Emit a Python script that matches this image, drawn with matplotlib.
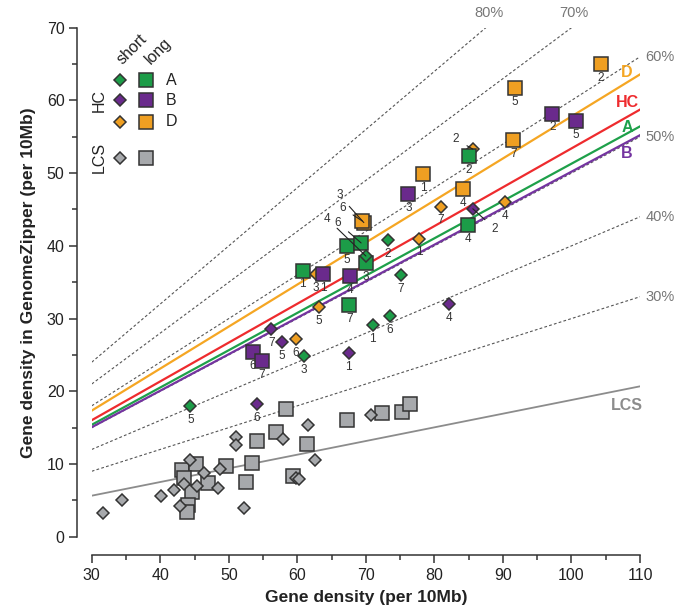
import numpy as np
import matplotlib
matplotlib.use("Agg")
import matplotlib.pyplot as plt
from matplotlib.ticker import MultipleLocator

plt.rcParams['font.family'] = ['Liberation Sans', 'DejaVu Sans']

# chromosome numbers 1..7 label each HC point
chrom = [1, 2, 3, 4, 5, 6, 7]

# HC, short / long, for the three variants A, B, D
a_short_x = [71.0, 73.2, 61.0, 70.0, 44.4, 73.5, 75.1]
a_short_y = [29.1, 40.8, 24.9, 38.6, 18.0, 30.3, 36.0]
a_long_x = [60.8, 85.0, 70.0, 84.9, 67.2, 69.3, 67.6]
a_long_y = [36.6, 52.4, 37.6, 42.9, 40.0, 40.4, 31.8]

b_short_x = [67.5, 85.6, 63.8, 82.2, 57.7, 54.1, 56.2]
b_short_y = [25.2, 45.1, 36.1, 32.0, 26.8, 18.2, 28.5]
b_long_x = [63.8, 97.2, 76.2, 67.7, 100.6, 53.5, 54.8]
b_long_y = [36.1, 58.2, 47.1, 35.8, 57.2, 25.4, 24.1]

d_short_x = [77.8, 85.6, 62.7, 90.3, 63.1, 59.8, 80.9]
d_short_y = [41.0, 53.3, 36.1, 46.0, 31.6, 27.2, 45.4]
d_long_x = [78.4, 104.3, 69.7, 84.2, 91.8, 69.5, 91.5]
d_long_y = [49.9, 65.0, 43.2, 47.8, 61.7, 43.4, 54.5]

# LCS points (no chromosome labels)
lcs_short_x = [31.7, 34.4, 40.1, 42.0, 42.9, 43.5, 44.3, 45.3, 46.4, 48.4,
               48.7, 51.1, 51.1, 52.2, 57.9, 59.8, 60.2, 61.6, 62.6, 70.7]
lcs_short_y = [3.2, 5.1, 5.6, 6.4, 4.2, 7.2, 10.5, 7.0, 8.7, 6.7,
               9.3, 13.7, 12.6, 3.9, 13.5, 8.1, 7.9, 15.4, 10.6, 16.8]
lcs_long_x = [43.2, 45.2, 43.5, 46.9, 49.6, 44.6, 44.0, 43.9, 52.5, 53.4,
              54.1, 56.9, 58.4, 59.4, 61.4, 67.2, 72.4, 75.3, 76.5]
lcs_long_y = [9.2, 10.0, 8.1, 7.4, 9.7, 6.2, 4.4, 3.4, 7.5, 10.2,
              13.1, 14.4, 17.5, 8.3, 12.8, 16.1, 17.0, 17.1, 18.2]

# slopes of the fitted lines through the origin
fit_names = ['D', 'HC', 'A', 'B', 'LCS']
fit_slopes = [0.578, 0.534, 0.513, 0.502, 0.188]

# reference lines y = p * x
pct_lines = [0.3, 0.4, 0.5, 0.6, 0.7, 0.8]

GREEN = '#1c9c48'
PURPLE = '#6a2a8c'
ORANGE = '#ef9f22'
GRAY = '#a7a9ac'
EDGE = '#333333'
line_colors = {'D': '#f5a623', 'HC': '#ee2b2e', 'A': '#1ea04a', 'B': '#7434a0', 'LCS': '#8c8c8c'}

fig = plt.figure(figsize=(6.78, 6.05), dpi=100)
ax = fig.add_axes([0.1353, 0.1129, 0.8087, 0.8413])
ax.set_xlim(30, 110)
ax.set_ylim(0, 70)

x0, x1 = 30, 110
for p in pct_lines:
    xe = min(x1, 70 / p)
    ax.plot([x0, xe], [p * x0, p * xe], color='#555555', lw=0.8,
            dashes=(2.5, 2), zorder=1)
    lab = '%d%%' % round(p * 100)
    if xe < x1:
        ax.text(xe + 0.4, 71.0, lab, ha='center', va='bottom', fontsize=10.5,
                color='#777777', clip_on=False)
    else:
        ax.text(x1 + 0.8, p * x1, lab, ha='left', va='center', fontsize=10.5,
                color='#777777', clip_on=False)

for name, s in zip(fit_names, fit_slopes):
    ax.plot([x0, x1], [s * x0, s * x1], color=line_colors[name],
            lw=1.6 if name != 'LCS' else 1.3, zorder=2)

line_text_y = {'D': 63.8, 'HC': 59.7, 'A': 56.3, 'B': 52.7, 'LCS': 18.1}
for name in fit_names:
    ax.text(108.1, line_text_y[name], name, ha='center', va='center',
            fontsize=11.5, fontweight='bold', color=line_colors[name])

# LCS: squares below diamonds
ax.plot(lcs_long_x, lcs_long_y, 's', ms=9.5, mfc=GRAY, mec=EDGE, mew=1.1, ls='none', zorder=3)
ax.plot(lcs_short_x, lcs_short_y, 'D', ms=6.6, mfc=GRAY, mec=EDGE, mew=1.1, ls='none', zorder=3)

groups = [
    ('Ds', d_short_x, d_short_y, 'D', ORANGE),
    ('Bs', b_short_x, b_short_y, 'D', PURPLE),
    ('Bl', b_long_x, b_long_y, 's', PURPLE),
    ('Al', a_long_x, a_long_y, 's', GREEN),
    ('As', a_short_x, a_short_y, 'D', GREEN),
    ('Dl', d_long_x, d_long_y, 's', ORANGE),
]

# chromosome labels that sit off the default spot (offsets in points);
# None = no label (marker hidden under another one)
label_offsets = {
    ('Ds', 2): (-12, 7),
    ('Bs', 2): (16, -14.5),
    ('Dl', 3): (-17.5, 19.5),
    ('Dl', 6): (-14.5, 9.5),
    ('As', 4): (-28, 27),
    ('Al', 6): (-16.5, 14.5),
    ('Bs', 3): None,
}
leader = {('Ds', 2), ('Bs', 2), ('Dl', 3), ('Dl', 6), ('As', 4), ('Al', 6)}

z = 4
for key, xs, ys, mk, col in groups:
    ms = 9.5 if mk == 's' else 6.6
    ax.plot(xs, ys, mk, ms=ms, mfc=col, mec=EDGE, mew=1.1, ls='none', zorder=z)
    for c, x, y in zip(chrom, xs, ys):
        off = label_offsets.get((key, c), (0, -10))
        if off is None:
            continue
        if (key, c) in leader:
            ax.annotate(str(c), (x, y), xytext=off, textcoords='offset points',
                        ha='center', va='center', fontsize=8.5, color='#333333',
                        arrowprops=dict(arrowstyle='-', color='#222222', lw=0.8,
                                        shrinkA=4, shrinkB=0), zorder=8)
        else:
            ax.annotate(str(c), (x, y), xytext=off, textcoords='offset points',
                        ha='center', va='center', fontsize=8.5, color='#333333',
                        zorder=8)
    z += 0.1

# key in the upper left corner
tr = ax.transAxes
leg_rows = [('A', GREEN, 0.897), ('B', PURPLE, 0.857), ('D', ORANGE, 0.815), ('', GRAY, 0.745)]
for lab, col, yy in leg_rows:
    ax.plot([0.0516], [yy], 'D', ms=6.6, mfc=col, mec=EDGE, mew=1.1, transform=tr, clip_on=False, zorder=9)
    ax.plot([0.099], [yy], 's', ms=9.5, mfc=col, mec=EDGE, mew=1.1, transform=tr, clip_on=False, zorder=9)
    if lab:
        ax.text(0.135, yy, lab, transform=tr, ha='left', va='center', fontsize=11.5, color='#222222')
ax.text(0.014, 0.857, 'HC', transform=tr, rotation=90, ha='center', va='center', fontsize=11.5, color='#222222')
ax.text(0.014, 0.745, 'LCS', transform=tr, rotation=90, ha='center', va='center', fontsize=11.5, color='#222222')
ax.text(0.073, 0.958, 'short', transform=tr, rotation=45, ha='center', va='center', fontsize=11.5, color='#222222')
ax.text(0.121, 0.955, 'long', transform=tr, rotation=45, ha='center', va='center', fontsize=11.5, color='#222222')

for side in ['top', 'right']:
    ax.spines[side].set_visible(False)
ax.spines['left'].set_position(('outward', 10.6))
ax.spines['bottom'].set_position(('outward', 13.5))
for side in ['left', 'bottom']:
    ax.spines[side].set_color('#333333')
    ax.spines[side].set_linewidth(1.1)

ax.xaxis.set_major_locator(MultipleLocator(10))
ax.xaxis.set_minor_locator(MultipleLocator(5))
ax.yaxis.set_major_locator(MultipleLocator(10))
ax.yaxis.set_minor_locator(MultipleLocator(5))
ax.tick_params(which='major', direction='out', length=6, width=1.1, color='#333333',
               labelsize=11.5, labelcolor='#222222', pad=3)
ax.tick_params(which='minor', direction='out', length=3.5, width=1.1, color='#333333')

ax.set_xlabel('Gene density (per 10Mb)', fontsize=12.5, fontweight='bold', color='#222222', labelpad=5)
ax.set_ylabel('Gene density in GenomeZipper (per 10Mb)', fontsize=12.5, fontweight='bold',
              color='#222222', labelpad=8)

fig.savefig('out.png', dpi=100)
